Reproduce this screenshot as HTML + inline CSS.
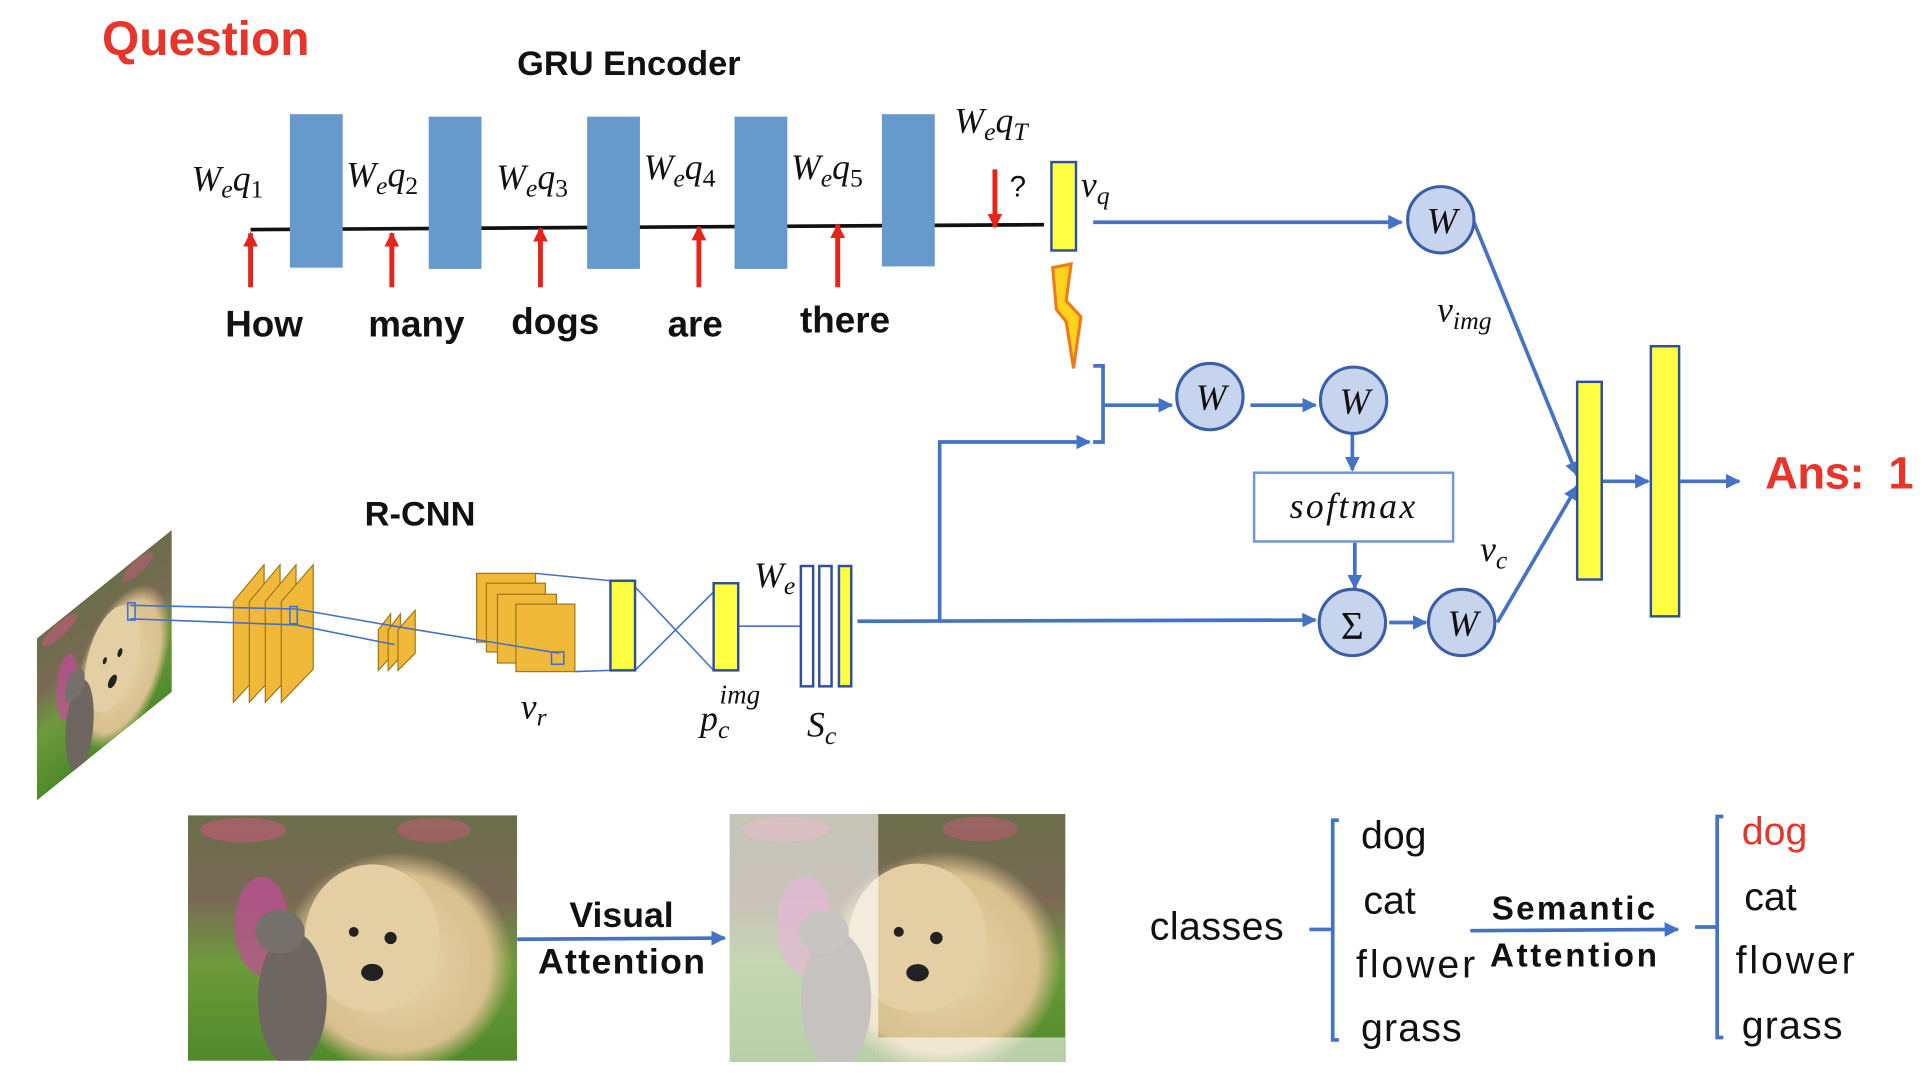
<!DOCTYPE html>
<html><head><meta charset="utf-8"><style>
html,body{margin:0;padding:0;background:#fff;}
svg{display:block;}
.m{font-family:"Liberation Serif",serif;font-style:italic;fill:#111;}
.s{font-family:"Liberation Sans",sans-serif;fill:#111;}
</style></head><body>
<svg width="1926" height="1078" viewBox="0 0 1568 878" preserveAspectRatio="none" xmlns="http://www.w3.org/2000/svg">
<defs>
<marker id="ab" viewBox="0 0 10 10" refX="9" refY="5" markerWidth="4" markerHeight="4" orient="auto"><path d="M0,0L10,5L0,10z" fill="#4472c4"/></marker>
<marker id="ar" viewBox="0 0 10 10" refX="9" refY="5" markerWidth="3" markerHeight="3.5" orient="auto"><path d="M0,0L10,5L0,10z" fill="#e8231b"/></marker>
<linearGradient id="grass" x1="0" y1="0" x2="0" y2="1"><stop offset="0" stop-color="#6b6e4a"/><stop offset="0.35" stop-color="#7a6a55"/><stop offset="0.6" stop-color="#6e9a3c"/><stop offset="1" stop-color="#4f8a2a"/></linearGradient>
<radialGradient id="dog" cx="0.5" cy="0.5" r="0.5"><stop offset="0" stop-color="#e8d6ae"/><stop offset="0.8" stop-color="#d8c08e"/><stop offset="1" stop-color="#d2b784" stop-opacity="0"/></radialGradient>
<clipPath id="pc"><rect x="0" y="0" width="268" height="200"/></clipPath>
<g id="photo"><g clip-path="url(#pc)">
<rect x="0" y="0" width="268" height="200" fill="url(#grass)"/>
<ellipse cx="45" cy="12" rx="35" ry="10" fill="#c55a78" opacity="0.6"/>
<ellipse cx="200" cy="12" rx="30" ry="10" fill="#c55a78" opacity="0.5"/>
<ellipse cx="60" cy="90" rx="22" ry="40" fill="#c24c9a" opacity="0.7"/>
<ellipse cx="215" cy="95" rx="20" ry="30" fill="#c14aa0" opacity="0.7"/>
<ellipse cx="170" cy="120" rx="95" ry="90" fill="url(#dog)"/>
<ellipse cx="150" cy="100" rx="55" ry="60" fill="#e3cfa3"/>
<ellipse cx="85" cy="150" rx="28" ry="55" fill="#6e6660"/>
<ellipse cx="75" cy="95" rx="20" ry="18" fill="#75706a"/>
<ellipse cx="165" cy="100" rx="5" ry="5" fill="#222"/><ellipse cx="135" cy="95" rx="4" ry="4" fill="#222"/>
<ellipse cx="150" cy="128" rx="9" ry="7" fill="#222"/>
</g></g>
</defs>

<text x="83" y="45" class="s" font-size="39" font-weight="bold" style="fill:#e8352b">Question</text>
<text x="512" y="61" class="s" font-size="28" font-weight="bold" text-anchor="middle">GRU Encoder</text>

<line x1="204" y1="187" x2="850" y2="183" stroke="#111" stroke-width="3"/>
<g fill="#6699cc">
<rect x="236" y="93" width="43" height="125"/><rect x="349" y="95" width="43" height="124"/>
<rect x="478" y="95" width="43" height="124"/><rect x="598" y="95" width="43" height="124"/>
<rect x="718" y="93" width="43" height="124"/>
</g>
<g stroke="#e8231b" stroke-width="4" marker-end="url(#ar)">
<line x1="204" y1="234" x2="204" y2="190"/><line x1="319" y1="234" x2="319" y2="190"/>
<line x1="440" y1="234" x2="440" y2="186"/><line x1="569" y1="234" x2="569" y2="185"/>
<line x1="682" y1="234" x2="682" y2="183"/><line x1="810" y1="138" x2="810" y2="185"/>
</g>
<g class="s" font-size="30" font-weight="bold" text-anchor="middle">
<text x="215" y="274">How</text><text x="339" y="274">many</text><text x="452" y="272">dogs</text><text x="566" y="274">are</text><text x="688" y="271">there</text>
</g>
<g class="m" font-size="29">
<text x="156" y="155">W<tspan font-size="21" dy="6">e</tspan><tspan dy="-6">q</tspan><tspan font-size="21" dy="6" font-style="normal">1</tspan></text>
<text x="282" y="152">W<tspan font-size="21" dy="6">e</tspan><tspan dy="-6">q</tspan><tspan font-size="21" dy="6" font-style="normal">2</tspan></text>
<text x="404" y="154">W<tspan font-size="21" dy="6">e</tspan><tspan dy="-6">q</tspan><tspan font-size="21" dy="6" font-style="normal">3</tspan></text>
<text x="524" y="146">W<tspan font-size="21" dy="6">e</tspan><tspan dy="-6">q</tspan><tspan font-size="21" dy="6" font-style="normal">4</tspan></text>
<text x="644" y="146">W<tspan font-size="21" dy="6">e</tspan><tspan dy="-6">q</tspan><tspan font-size="21" dy="6" font-style="normal">5</tspan></text>
<text x="777" y="108">W<tspan font-size="21" dy="6">e</tspan><tspan dy="-6">q</tspan><tspan font-size="21" dy="6">T</tspan></text>
<text x="880" y="160">v<tspan font-size="21" dy="6">q</tspan></text>
<text x="1170" y="262">v<tspan font-size="21" dy="6">img</tspan></text>
<text x="1205" y="457">v<tspan font-size="21" dy="6">c</tspan></text>
</g>
<text x="822" y="160" class="s" font-size="24">?</text>
<rect x="856" y="132" width="20" height="72" fill="#ffff44" stroke="#2f4f9a" stroke-width="2"/>
<path d="M857,218 L872,215 L868,245 L880,258 L874,300 L868,262 L860,252 Z" fill="#ffd21e" stroke="#f07a1a" stroke-width="2.5"/>

<g stroke="#4472c4" stroke-width="3" fill="none">
<line x1="890" y1="181" x2="1141" y2="181" marker-end="url(#ab)"/>
<path d="M890,298 H898 V360 H890"/>
<line x1="898" y1="330" x2="954" y2="330" marker-end="url(#ab)"/>
<line x1="1018" y1="330" x2="1071" y2="330" marker-end="url(#ab)"/>
<line x1="1101" y1="354" x2="1101" y2="383" marker-end="url(#ab)"/>
<line x1="1103" y1="442" x2="1103" y2="479" marker-end="url(#ab)"/>
<line x1="698" y1="506" x2="1071" y2="505" marker-end="url(#ab)"/>
<path d="M765,506 V360 H887" marker-end="url(#ab)"/>
<line x1="1131" y1="507" x2="1161" y2="507" marker-end="url(#ab)"/>
<line x1="1200" y1="181" x2="1284" y2="387" marker-end="url(#ab)"/>
<line x1="1219" y1="507" x2="1284" y2="396" marker-end="url(#ab)"/>
<line x1="1305" y1="392" x2="1342" y2="392" marker-end="url(#ab)"/>
<line x1="1368" y1="392" x2="1416" y2="392" marker-end="url(#ab)"/>
</g>
<g fill="#c6d4ee" stroke="#3a5ea8" stroke-width="2.5">
<circle cx="1173" cy="179" r="27"/><circle cx="985" cy="323" r="27"/><circle cx="1102" cy="326" r="27"/>
<circle cx="1101" cy="507" r="27"/><circle cx="1190" cy="507" r="27"/>
</g>
<g class="m" font-size="30" text-anchor="middle">
<text x="1174" y="190">W</text><text x="986" y="334">W</text><text x="1103" y="337">W</text><text x="1191" y="518">W</text>
</g>
<text x="1101" y="520" text-anchor="middle" font-family="Liberation Serif,serif" font-size="32" fill="#111">Σ</text>
<rect x="1021" y="385" width="162" height="56" fill="#fff" stroke="#6f95d6" stroke-width="2"/>
<text x="1102" y="422" class="m" font-size="29" text-anchor="middle" letter-spacing="2">softmax</text>
<rect x="1284" y="311" width="20" height="161" fill="#ffff44" stroke="#2f4f9a" stroke-width="2"/>
<rect x="1344" y="282" width="23" height="220" fill="#ffff44" stroke="#2f4f9a" stroke-width="2"/>
<text x="1437" y="398" class="s" font-size="37" font-weight="bold" style="fill:#e8352b" textLength="121" xml:space="preserve">Ans:  1</text>

<text x="342" y="428" class="s" font-size="28" font-weight="bold" text-anchor="middle">R-CNN</text>
<g transform="matrix(0.41,-0.33,0,0.66,30,520)"><use href="#photo"/></g>
<g fill="#f0b93a" stroke="#a07818" stroke-width="1">
<path d="M190,572 V490 L215,460 V545 Z"/><path d="M203,572 V490 L228,460 V545 Z"/><path d="M216,572 V490 L241,460 V545 Z"/>
<path d="M229,572 V490 L255,460 V545 Z"/>
<path d="M308,546 V513 L318,500 V535 Z"/><path d="M316,546 V513 L326,500 V535 Z"/><path d="M324,546 V513 L338,497 V532 Z"/>
<rect x="388" y="467" width="48" height="56"/><rect x="396" y="475" width="48" height="56"/><rect x="405" y="484" width="48" height="56"/><rect x="420" y="492" width="48" height="55"/>
</g>
<g stroke="#4472c4" stroke-width="1.3" fill="none">
<path d="M106,493 L241,496 L321,510 L455,532"/><path d="M106,504 L241,509 L321,525"/>
<rect x="104" y="491" width="6" height="14"/><rect x="236" y="494" width="6" height="14"/>
<rect x="449" y="531" width="10" height="10"/>
<line x1="436" y1="467" x2="497" y2="473"/><line x1="468" y1="547" x2="497" y2="546"/>
<line x1="517" y1="478" x2="581" y2="546"/><line x1="517" y1="546" x2="581" y2="482"/>
<line x1="601" y1="510" x2="652" y2="510"/>
</g>
<rect x="497" y="473" width="20" height="73" fill="#ffff44" stroke="#2f4f9a" stroke-width="2"/>
<rect x="581" y="475" width="20" height="71" fill="#ffff44" stroke="#2f4f9a" stroke-width="2"/>
<rect x="652" y="461" width="10" height="98" fill="#fff" stroke="#2f4f9a" stroke-width="2"/>
<rect x="667" y="461" width="10" height="98" fill="#fff" stroke="#2f4f9a" stroke-width="2"/>
<rect x="683" y="461" width="10" height="98" fill="#ffff44" stroke="#2f4f9a" stroke-width="2"/>
<g class="m" font-size="29">
<text x="614" y="478">W<tspan font-size="21" dy="6">e</tspan></text>
<text x="424" y="585">v<tspan font-size="21" dy="6">r</tspan></text>
<text x="570" y="595">p<tspan font-size="21" dy="6">c</tspan><tspan font-size="22" dx="-8" dy="-28">img</tspan></text>
<text x="657" y="600">S<tspan font-size="21" dy="6">c</tspan></text>
</g>

<g transform="translate(153,664)"><use href="#photo"/></g>
<g transform="translate(594,663) scale(1.02,1.01)"><use href="#photo"/></g>
<rect x="594" y="663" width="121" height="202" fill="#fff" opacity="0.6"/>
<rect x="715" y="845" width="152" height="20" fill="#fff" opacity="0.6"/>
<line x1="421" y1="765" x2="590" y2="764" stroke="#4472c4" stroke-width="3" marker-end="url(#ab)"/>
<g class="s" font-size="29" font-weight="bold" text-anchor="middle"><text x="506" y="755">Visual</text><text x="506" y="793" textLength="136">Attention</text></g>
<g class="s" font-size="32" fill="#222">
<text x="936" y="765" textLength="109">classes</text>
<text x="1108" y="691">dog</text><text x="1110" y="744">cat</text><text x="1104" y="796" textLength="97">flower</text><text x="1108" y="848" textLength="82">grass</text>
<text x="1418" y="688" style="fill:#e8352b">dog</text><text x="1420" y="741">cat</text><text x="1413" y="793" textLength="97">flower</text><text x="1418" y="846" textLength="82">grass</text>
</g>
<g stroke="#4472c4" stroke-width="3" fill="none">
<path d="M1066,757 H1085 M1090,668 H1085 V847 H1090"/>
<path d="M1380,755 H1398 M1403,665 H1398 V845 H1403"/>
<line x1="1197" y1="758" x2="1366" y2="757" marker-end="url(#ab)"/>
</g>
<g class="s" font-size="27" font-weight="bold" text-anchor="middle"><text x="1281" y="749" textLength="133">Semantic</text><text x="1281" y="787" textLength="136">Attention</text></g>
</svg>
</body></html>
